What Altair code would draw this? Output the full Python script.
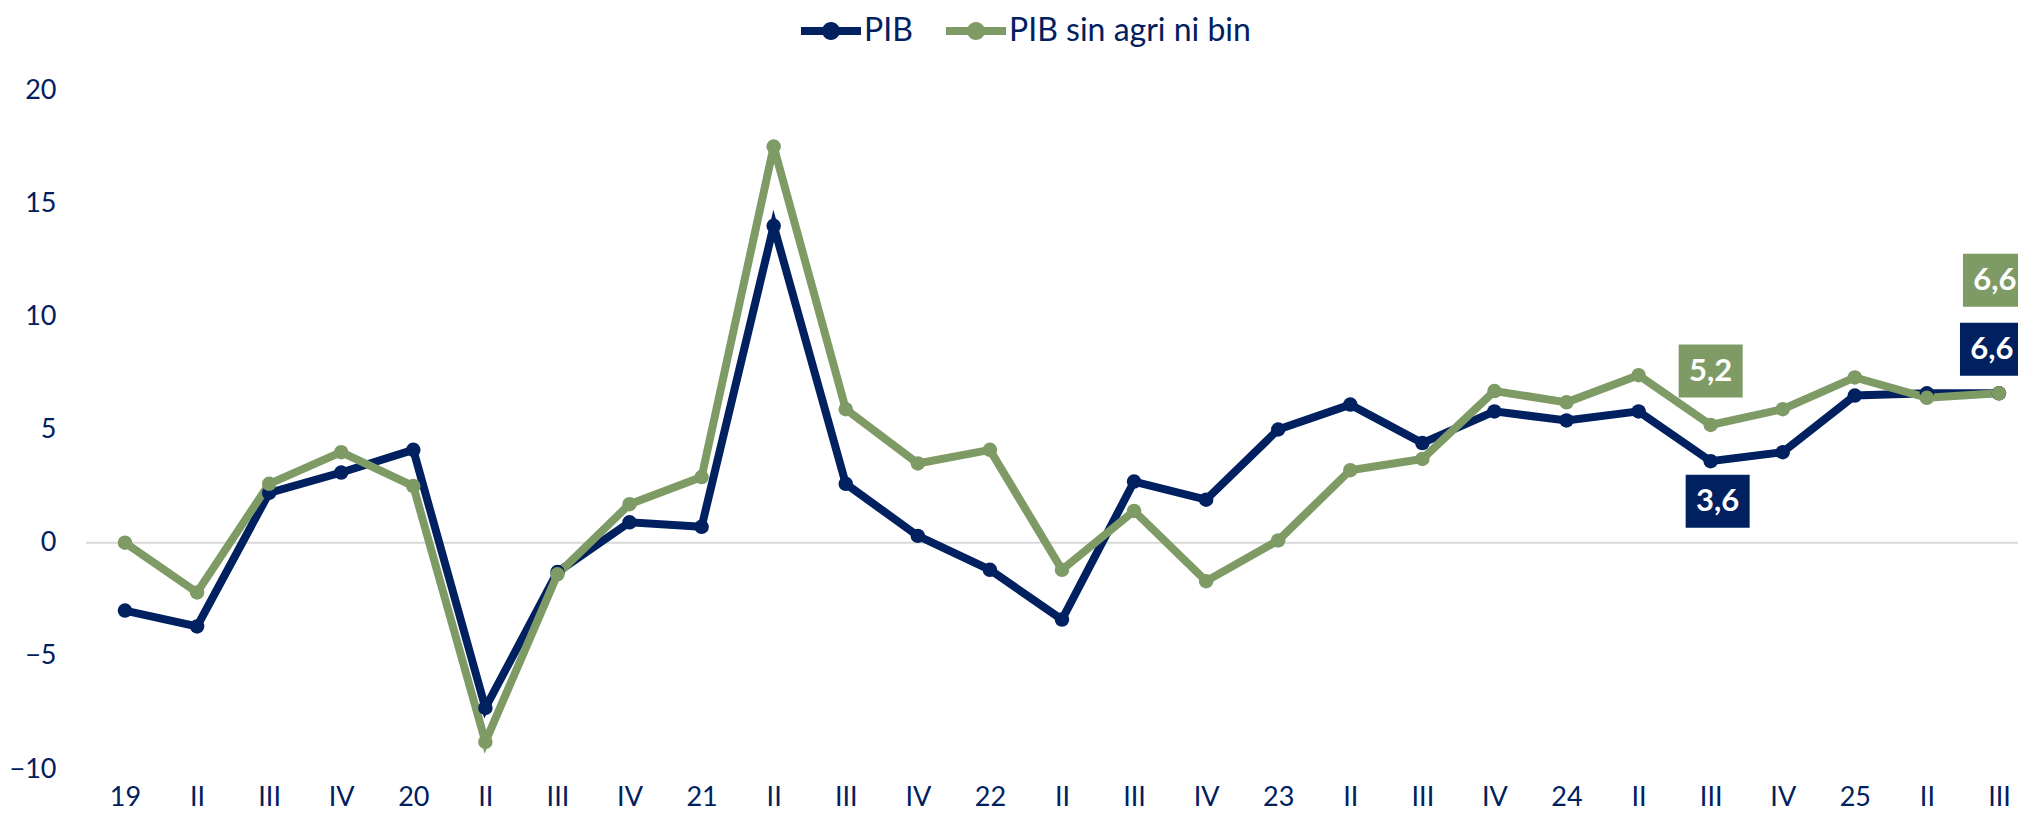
import json
import altair as alt
import pandas as pd

# ---- data ----
x_labels = ["19", "II", "III", "IV", "20", "II", "III", "IV", "21", "II", "III", "IV",
            "22", "II", "III", "IV", "23", "II", "III", "IV", "24", "II", "III", "IV",
            "25", "II", "III"]
pib = [-3.0, -3.7, 2.2, 3.1, 4.1, -7.3, -1.3, 0.9, 0.7, 14.0, 2.6, 0.3, -1.2, -3.4,
       2.7, 1.9, 5.0, 6.1, 4.4, 5.8, 5.4, 5.8, 3.6, 4.0, 6.5, 6.6, 6.6]
pib_sin = [0.0, -2.2, 2.6, 4.0, 2.5, -8.8, -1.4, 1.7, 2.9, 17.5, 5.9, 3.5, 4.1, -1.2,
           1.4, -1.7, 0.1, 3.2, 3.7, 6.7, 6.2, 7.4, 5.2, 5.9, 7.3, 6.4, 6.6]
series_names = ["PIB", "PIB sin agri ni bin"]
colors = ["#002060", "#7F9B65"]
y_ticks = [-10, -5, 0, 5, 10, 15, 20]

# highlighted labels: (series, index)
labels = [("PIB sin agri ni bin", 22), ("PIB", 22), ("PIB sin agri ni bin", 26), ("PIB", 26)]

rows = []
for name, vals in zip(series_names, [pib, pib_sin]):
    for i, v in enumerate(vals):
        rows.append({"idx": i, "value": v, "serie": name})
df = pd.DataFrame(rows)

FONT = "Lato"
NAVY = "#002060"

xscale = alt.Scale(domain=[-0.541, 26.264], nice=False, zero=False)
yscale = alt.Scale(domain=[-10, 20], nice=False, zero=False)
cscale = alt.Scale(domain=series_names, range=colors)

label_expr = json.dumps(x_labels) + "[datum.value]"

x_axis = alt.Axis(values=list(range(len(x_labels))), labelExpr=label_expr,
                  title=None, grid=False, domain=False, ticks=False,
                  labelFontSize=27, labelFont=FONT, labelColor=NAVY,
                  labelPadding=15, labelBaseline="top")
y_axis = alt.Axis(values=y_ticks, title=None, grid=False, domain=False,
                  ticks=False, labelFontSize=27, labelFont=FONT,
                  labelColor=NAVY, labelPadding=30)

legend_path = ("M-1,-0.13L1,-0.13L1,0.13L-1,0.13Z"
               "M-0.3,0A0.3,0.3 0 1,1 0.3,0A0.3,0.3 0 1,1 -0.3,0Z")
legend = alt.Legend(title=None, orient="none", direction="horizontal",
                    legendX=715, legendY=-89,
                    symbolType=legend_path, symbolSize=3600,
                    symbolStrokeWidth=0, labelFontSize=32,
                    labelFont=FONT, labelColor=NAVY, labelOffset=3,
                    columnPadding=33, labelLimit=400)

x_enc = alt.X("idx:Q", scale=xscale, axis=x_axis)
y_enc = alt.Y("value:Q", scale=yscale, axis=y_axis)
c_enc = alt.Color("serie:N", scale=cscale, legend=legend)

zero = alt.Chart(pd.DataFrame({"value": [0]})).mark_rule(color="#d9d9d9", strokeWidth=2).encode(
    y=y_enc
)

lines = alt.Chart(df).mark_line(strokeWidth=8).encode(
    x=x_enc, y=y_enc, color=c_enc, order=alt.Order("idx:Q"),
)

points = alt.Chart(df).mark_point(filled=True, size=210, opacity=1).encode(
    x=x_enc, y=y_enc, color=c_enc,
)

box_path = "M-1,-0.83L1,-0.83L1,0.83L-1,0.83Z"
offsets = [(0, -54), (7, 40), (-4, -113), (-7, -44)]

label_layers = []
for (name, i), (dx, dy) in zip(labels, offsets):
    vals = pib if name == "PIB" else pib_sin
    v = vals[i]
    ldf = pd.DataFrame({"idx": [i], "value": [v], "serie": [name],
                        "txt": [f"{v:.1f}".replace(".", ",")]})
    col = colors[series_names.index(name)]
    box = alt.Chart(ldf).mark_point(shape=box_path, size=4096, filled=True, opacity=1,
                                    color=col, xOffset=dx, yOffset=dy).encode(
        x=x_enc, y=y_enc)
    txt = alt.Chart(ldf).mark_text(font=FONT, fontSize=31, fontWeight="bold", color="white",
                                   xOffset=dx, yOffset=dy + 1, baseline="middle",
                                   align="center").encode(
        x=x_enc, y=y_enc, text="txt:N")
    label_layers += [box, txt]

chart = alt.layer(zero, lines, points, *label_layers).properties(
    width=1932, height=679,
    autosize=alt.AutoSizeParams(type="none"),
    padding={"left": 78, "top": 82, "right": 0, "bottom": 46},
    background="white",
).configure_view(stroke=None)

chart.save("out.html", embed_options={"renderer": "svg", "actions": False})
